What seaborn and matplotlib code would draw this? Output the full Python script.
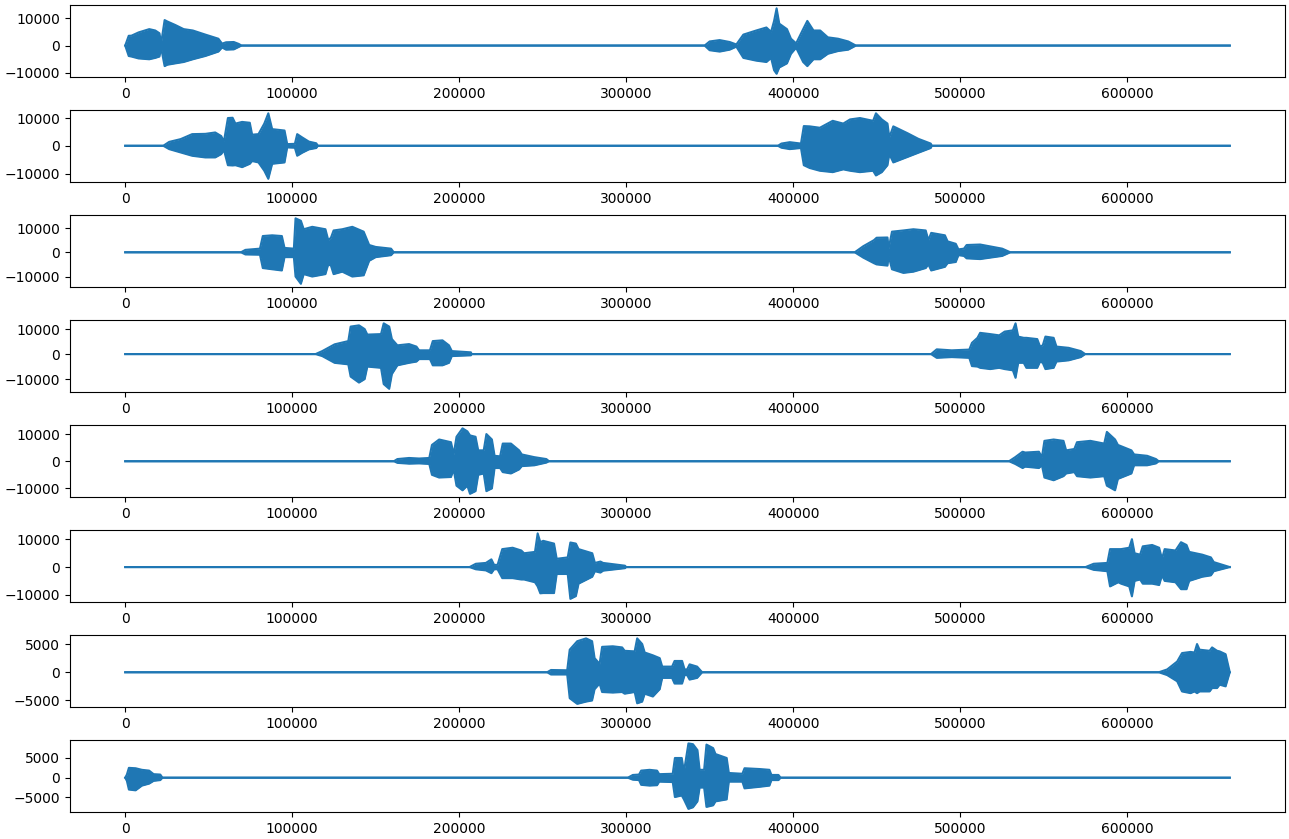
import matplotlib
matplotlib.use('Agg')
import matplotlib.pyplot as plt
import numpy as np
import seaborn as sns

# total length of every channel (samples)
n_samples = 661500

# envelope of each channel:
# sample position (thousands), upper amplitude, lower amplitude
ch1_x = [0, 2.1, 3.7, 8, 14.4, 18, 20.5, 21.5, 23.6, 25.2, 30, 35, 40.5, 48, 55.8, 58, 60.4, 65, 68, 69.6,
         347, 350, 356, 362, 366, 370.2, 377.9, 384, 386.8, 388.6, 390.1, 391.7, 396.3, 398.7, 401.8, 406,
         408.5, 412.2, 416.2, 420.8, 426.9, 433, 437.6]
ch1_hi = [0, 3570, 3600, 4800, 6000, 5500, 4500, 800, 9300, 8800, 7500, 6000, 5500, 4000, 2500, 700, 1200, 1300, 600, 0,
          0, 1500, 2000, 1300, 400, 4000, 5500, 6600, 5000, 9000, 13600, 8000, 6000, 2500, 800, 6000,
          9000, 5500, 5500, 3000, 2500, 1500, 0]
ch1_lo = [0, -3810, -4000, -4700, -5000, -4500, -4000, -800, -7500, -7000, -6500, -6000, -5000, -3800, -2200, -700, -1500, -1400, -500, 0,
          0, -1700, -2200, -1500, -400, -4500, -5500, -6000, -4500, -9000, -10300, -8000, -6500, -3000, -800, -6000,
          -7500, -5000, -5000, -3000, -2000, -1500, 0]

ch2_x = [0, 22.8, 26.3, 33.2, 40.1, 48, 53.9, 57.5, 59.1, 61.5, 64.3, 66, 70, 74.6, 76, 79.8, 83.3, 85.7, 88, 95.4,
         97, 101.6, 103, 106, 110, 114.4, 115.4,
         390.9, 393, 398, 404.7, 406.4, 409.9, 416, 423.7, 430, 434.1, 440, 447.9, 449.6, 453.1, 456.5, 457.6,
         460, 468.6, 475, 482.4, 483.1]
ch2_hi = [0, 0, 1400, 2400, 4200, 4300, 4800, 3500, 1500, 10000, 10100, 8000, 8600, 8300, 4000, 4200, 8000, 11700, 6000, 5500,
          600, 700, 4200, 3000, 1500, 900, 0,
          0, 800, 1300, 800, 7100, 7000, 6500, 9000, 8000, 9500, 10000, 9000, 11700, 9500, 8000, 3000,
          7000, 4500, 2500, 800, 0]
ch2_lo = [0, 0, -1200, -2400, -3600, -4200, -4200, -3000, -1500, -7000, -7100, -7000, -7700, -6500, -5500, -6000, -9000, -11900, -6500, -6000,
          -600, -700, -3600, -2500, -1300, -800, 0,
          0, -700, -1200, -800, -7000, -8000, -9000, -9500, -8500, -9000, -9500, -9000, -10700, -9500, -7000, -3000,
          -6000, -4000, -2500, -800, 0]

ch3_x = [0, 69.3, 72, 80.7, 82.4, 88, 93.8, 95.4, 101, 102, 105.2, 106.9, 112, 119.9, 121.6, 123.2, 124.8, 130, 136,
         142.8, 146.1, 150, 159.2, 160.8,
         436.9, 442, 448.4, 450, 456.5, 457.2, 459.2, 466, 472, 479.4, 481, 482.7, 490.9, 492.5, 497.4, 499,
         502.3, 503.9, 512, 525.2, 530.1]
ch3_hi = [0, 0, 1000, 1500, 6700, 7000, 6700, 1800, 1500, 14000, 13000, 9500, 10500, 9500, 5000, 6000, 9000, 9500, 10500,
          8500, 3000, 2200, 1500, 0,
          0, 2500, 5000, 6000, 6100, 1500, 8500, 9000, 9500, 9000, 5000, 8000, 7000, 4500, 3500, 1200,
          1500, 3000, 3200, 1500, 0]
ch3_lo = [0, 0, -900, -1000, -6500, -7000, -7500, -2000, -2000, -10000, -13000, -9000, -10000, -9000, -5000, -5500, -9000, -8000, -10000,
          -9500, -3500, -2000, -1200, 0,
          0, -2200, -4500, -5000, -5500, -1500, -7000, -8500, -8000, -6500, -5000, -7500, -6000, -4500, -4000, -1200,
          -1500, -2500, -2800, -1500, 0]

ch4_x = [0, 114, 118, 125.4, 133.6, 135, 140, 143.4, 145, 153.2, 154.8, 158.1, 159.7, 163, 170, 174.4, 176, 182.5,
         184.2, 190, 193.9, 195.6, 207, 207.5,
         482.6, 486, 495, 505.5, 507.1, 510.4, 512, 518, 523.4, 526.7, 531.6, 533.2, 534.8, 538.1, 539.7, 546.2,
         547.9, 549.5, 551.1, 556, 557.7, 565, 572.3, 574.9]
ch4_hi = [0, 0, 1200, 3900, 5200, 11000, 11500, 10000, 7800, 8000, 12300, 11000, 6000, 3500, 4000, 3000, 1500, 1500,
          5200, 5500, 3500, 1200, 700, 0,
          0, 1900, 1500, 1800, 4500, 6500, 8500, 8000, 7500, 9000, 9500, 12300, 7000, 6500, 6500, 6000,
          3000, 3500, 7000, 6500, 3000, 2500, 1200, 0]
ch4_lo = [0, 0, -800, -3500, -4100, -9000, -11400, -10000, -5000, -5500, -12000, -13900, -8000, -4500, -3500, -3000, -2000, -2000,
          -4500, -4500, -3500, -800, -500, 0,
          0, -1500, -1200, -1500, -4800, -5000, -5500, -6000, -5500, -6000, -6500, -9500, -3500, -3500, -5500, -5500,
          -3000, -3500, -6000, -5500, -3000, -2500, -1200, 0]

ch5_x = [0, 160.9, 163, 170, 176, 182.1, 183.7, 188, 195.1, 196.7, 198.4, 202, 204.9, 206.5, 209.8, 211.4, 214.7,
         216.3, 219.6, 221.2, 224.5, 226.1, 231, 235.9, 237.5, 245, 252.2, 253.8,
         529.3, 533, 537.4, 539, 547.2, 549, 550.5, 556, 561.9, 563.5, 568.4, 570, 578, 586.3, 587.9, 592.8,
         594.5, 602.6, 604.2, 612, 617.3, 618.9]
ch5_hi = [0, 0, 800, 1200, 1000, 1200, 6000, 8000, 7000, 2500, 9000, 12100, 11000, 9500, 9000, 4000, 4000,
          10000, 8000, 2000, 1800, 6500, 6500, 4000, 2500, 1500, 800, 0,
          0, 1500, 3500, 3200, 3500, 1500, 7500, 8000, 7500, 4000, 4500, 7000, 7500, 6500, 10800, 8000,
          6000, 4000, 2500, 2000, 800, 0]
ch5_lo = [0, 0, -600, -900, -800, -1000, -5000, -6000, -5800, -3000, -9000, -10700, -9000, -12000, -11000, -5000, -4500,
          -11000, -10000, -2500, -2500, -4000, -4500, -3000, -1800, -1500, -500, 0,
          0, -1000, -2500, -2000, -2500, -1500, -6000, -7000, -5500, -4500, -4000, -5500, -6000, -5500, -9000, -10700,
          -6500, -4500, -1500, -1500, -800, 0]

ch6_x = [0, 206.2, 210, 216, 219.3, 220.9, 223, 225.8, 232, 237.2, 238.9, 245.4, 247, 248.6, 250.3, 256.8, 258.4,
         265, 266.6, 269.9, 271.5, 279.7, 281.3, 284.6, 286.2, 299.3, 300,
         575.1, 580, 588.2, 589.8, 594.7, 596.4, 601.3, 602.9, 604.5, 607.8, 609.4, 615, 619.2, 620.9, 622.5,
         629, 632.3, 635.6, 637.2, 645, 650.2, 651.9, 661.5]
ch6_hi = [0, 0, 1200, 1500, 2800, 800, 800, 6500, 7000, 6000, 5000, 5500, 12200, 9000, 9500, 8500, 3000,
          3500, 8900, 8500, 6500, 5000, 1500, 2000, 1500, 500, 0,
          0, 1200, 1500, 6500, 6500, 6500, 7000, 10100, 5000, 4500, 7500, 8000, 7000, 3000, 6500,
          6000, 9000, 8000, 5500, 4500, 3500, 1800, 0]
ch6_lo = [0, 0, -800, -1200, -2200, -800, -800, -4000, -4000, -4500, -4500, -5500, -7000, -9500, -9400, -9400, -2500,
          -2500, -11500, -10500, -6000, -3500, -1500, -2000, -1300, -400, 0,
          0, -1000, -1500, -7000, -5500, -6000, -7000, -10600, -5000, -4500, -6000, -6000, -6500, -3000, -5000,
          -5500, -8000, -8000, -5000, -3500, -3000, -1500, 0]

ch7_x = [0, 252.7, 255, 264.7, 266.2, 270.7, 276, 279.6, 281.1, 284.1, 285.6, 292, 297.6, 299.1, 305.1, 306.6, 309.6,
         311.1, 316, 320.1, 321.6, 327.5, 329, 333.5, 335, 336.5, 338, 342.5, 345.5,
         619, 624, 630, 632.9, 638, 640.4, 641.9, 643.4, 649.4, 650.9, 653.9, 655.4, 659, 661.5]
ch7_hi = [0, 0, 400, 350, 4000, 5500, 6000, 5500, 2500, 1500, 4500, 4600, 4400, 3800, 3700, 6000, 5000,
          3500, 3000, 2500, 1000, 1000, 2000, 2000, 500, 500, 1400, 1000, 0,
          0, 500, 1900, 3400, 3600, 3500, 5000, 4000, 3800, 4400, 3800, 3700, 3200, 0]
ch7_lo = [0, 0, -400, -400, -4600, -5600, -5200, -5000, -3000, -2000, -3500, -3600, -3500, -3800, -3500, -5500, -5200,
          -3800, -4300, -3000, -1000, -1000, -2000, -2000, -500, -500, -1300, -1000, 0,
          0, -500, -1600, -3400, -3700, -3400, -3700, -3400, -3400, -2800, -2800, -2200, -2500, 0]

ch8_x = [0, 1, 2.2, 6.2, 10, 14.3, 17, 21, 22.3,
         301, 304, 307.7, 309, 314, 318.5, 319.8, 327.9, 329.2, 333.3, 334.6, 337.3, 340, 342.7, 344, 346.7,
         348.1, 352.1, 353.5, 360.2, 361.5, 369.6, 370.9, 380, 385.8, 387, 391.2, 392.5]
ch8_hi = [0, 800, 2500, 2400, 2000, 1800, 900, 800, 0,
          0, 700, 800, 1800, 2000, 1800, 900, 1000, 5000, 5000, 1500, 8700, 8500, 7000, 2000, 2000,
          8400, 7500, 6000, 5000, 1200, 1000, 2400, 2200, 2000, 700, 700, 0]
ch8_lo = [0, -800, -3000, -3200, -2000, -1500, -800, -600, 0,
          0, -500, -600, -1800, -2000, -1900, -1000, -1100, -4900, -4500, -5500, -7900, -7500, -6000, -2500, -2500,
          -7400, -7000, -6000, -5500, -1000, -1000, -2700, -2300, -2000, -600, -600, 0]

channels = [(ch1_x, ch1_hi, ch1_lo), (ch2_x, ch2_hi, ch2_lo), (ch3_x, ch3_hi, ch3_lo), (ch4_x, ch4_hi, ch4_lo),
            (ch5_x, ch5_hi, ch5_lo), (ch6_x, ch6_hi, ch6_lo), (ch7_x, ch7_hi, ch7_lo), (ch8_x, ch8_hi, ch8_lo)]

color = '#1f77b4'

fig, axes = plt.subplots(len(channels), 1, figsize=(12.89, 8.39), dpi=100)
fig.subplots_adjust(left=0.0543, right=0.9969, top=0.994, bottom=0.032, hspace=0.458)

for ax, (xs, hi, lo) in zip(axes, channels):
    x = np.array(xs) * 1000
    hi = np.array(hi, dtype=float)
    lo = np.array(lo, dtype=float)
    if x[-1] < n_samples:
        x = np.append(x, n_samples)
        hi = np.append(hi, 0)
        lo = np.append(lo, 0)
    ax.fill_between(x, lo, hi, color=color, linewidth=0)
    sns.lineplot(x=x, y=hi, ax=ax, color=color, linewidth=1.5, estimator=None)
    sns.lineplot(x=x, y=lo, ax=ax, color=color, linewidth=1.5, estimator=None)

plt.savefig('out.png', dpi=100)
